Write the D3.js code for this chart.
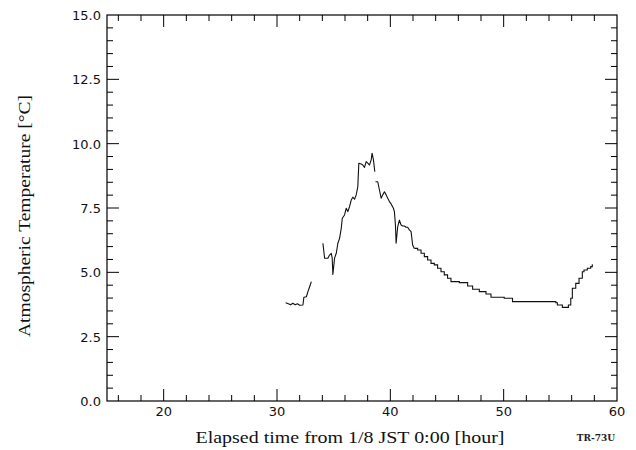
<!DOCTYPE html>
<html>
<head>
<meta charset="utf-8">
<script src="https://cdn.jsdelivr.net/npm/d3@7"></script>
<style>
  html, body { margin: 0; padding: 0; background: #fff; }
  svg { display: block; }
</style>
</head>
<body>
<svg id="chart" width="636" height="450"></svg>
<script>
// Elapsed hours from 1/8 JST 0:00 (null temperature = no record)
const hours = [
  30.76, 31.00, 31.20, 31.40, 31.60, 31.80, 32.00, 32.29, 32.37, 32.59, 32.73, 32.88, 33.03,
  33.60,
  34.05, 34.20, 34.49, 34.64, 34.79, 34.87, 34.93, 35.08, 35.23, 35.37, 35.52, 35.67, 35.76,
  35.96, 36.11, 36.25, 36.40, 36.55, 36.69, 36.84, 36.99, 37.13, 37.22, 37.43, 37.57, 37.72,
  37.87, 38.01, 38.16, 38.31, 38.39, 38.51, 38.63,
  38.66,
  38.69, 38.89, 39.04, 39.19, 39.33, 39.48, 39.63, 39.77, 39.92, 40.07, 40.27, 40.36, 40.45,
  40.51, 40.65, 40.80, 40.95, 41.09, 41.24, 41.39, 41.53, 41.68, 41.83, 41.97, 42.12, 42.41,
  42.71, 43.00, 43.29, 43.59, 43.88, 44.17, 44.47, 44.76, 45.05, 45.35, 46.09, 46.82, 47.26,
  47.85, 48.44, 48.88, 50.05, 50.78, 54.60, 54.74, 55.18, 55.71, 55.92, 56.06, 56.36, 56.65,
  56.94, 57.09, 57.38, 57.68, 57.82
];

// Atmospheric temperature [°C]
const temps = [
  3.82, 3.78, 3.74, 3.80, 3.74, 3.78, 3.72, 3.73, 4.03, 4.05, 4.25, 4.44, 4.64,
  null,
  6.13, 5.55, 5.55, 5.67, 5.74, 5.55, 4.92, 5.55, 5.74, 6.13, 6.32, 6.71, 7.10,
  7.23, 7.49, 7.36, 7.55, 7.81, 7.92, 7.84, 8.01, 8.33, 9.24, 9.21, 9.17, 9.08,
  9.30, 9.24, 9.17, 9.37, 9.63, 9.37, 8.91,
  null,
  8.52, 8.52, 8.20, 7.88, 8.01, 8.13, 8.01, 7.88, 7.75, 7.66, 7.49, 7.36, 6.84,
  6.13, 6.77, 7.03, 6.84, 6.80, 6.80, 6.75, 6.75, 6.65, 6.58, 6.06, 5.93, 5.87,
  5.74, 5.61, 5.48, 5.35, 5.29, 5.16, 5.02, 4.90, 4.77, 4.64, 4.60, 4.47, 4.34,
  4.25, 4.16, 4.03, 3.99, 3.86, 3.82, 3.73, 3.64, 3.73, 3.99, 4.38, 4.57, 4.77,
  5.02, 5.09, 5.16, 5.22, 5.31
];

const xMajor = [20, 30, 40, 50, 60];
const yMajor = [0, 2.5, 5, 7.5, 10, 12.5, 15];
const xTitle = "Elapsed time from 1/8 JST 0:00 [hour]";
const yTitle = "Atmospheric Temperature [°C]";
const tag = "TR-73U";

const svg = d3.select("#chart");
const margin = { left: 107, right: 19, top: 15, bottom: 49 };
const W = 636, H = 450;
const x0 = margin.left, x1 = W - margin.right;
const y0 = H - margin.bottom, y1 = margin.top;

const x = d3.scaleLinear().domain([15, 60]).range([x0, x1]);
const y = d3.scaleLinear().domain([0, 15]).range([y0, y1]);

const xMinor = d3.range(16, 60, 2).filter(v => !xMajor.includes(v));
const yMinor = d3.range(0.5, 15, 0.5).filter(v => !yMajor.some(m => Math.abs(m - v) < 1e-9));

const major = 12, minor = 6;

// frame
svg.append("rect")
  .attr("x", x0).attr("y", y1)
  .attr("width", x1 - x0).attr("height", y0 - y1)
  .attr("fill", "none").attr("stroke", "#000").attr("stroke-width", 1.2);

const ticks = svg.append("g").attr("stroke", "#000").attr("stroke-width", 1);

// ticks point inward on all four sides
function xTicks(vals, len) {
  vals.forEach(v => {
    if (v <= 15 || v >= 60) return;
    ticks.append("line").attr("x1", x(v)).attr("x2", x(v)).attr("y1", y0).attr("y2", y0 - len);
    ticks.append("line").attr("x1", x(v)).attr("x2", x(v)).attr("y1", y1).attr("y2", y1 + len);
  });
}
function yTicks(vals, len) {
  vals.forEach(v => {
    if (v <= 0 || v >= 15) return;
    ticks.append("line").attr("y1", y(v)).attr("y2", y(v)).attr("x1", x0).attr("x2", x0 + len);
    ticks.append("line").attr("y1", y(v)).attr("y2", y(v)).attr("x1", x1).attr("x2", x1 - len);
  });
}
xTicks(xMajor, major); xTicks(xMinor, minor);
yTicks(yMajor, major); yTicks(yMinor, minor);

const labelFont = "'DejaVu Sans', sans-serif";

// x tick labels
svg.append("g").selectAll("text").data(xMajor).join("text")
  .attr("x", d => x(d)).attr("y", y0 + 15)
  .attr("text-anchor", "middle")
  .attr("font-family", labelFont).attr("font-size", 13)
  .attr("fill", "#111")
  .text(d => d);

// y tick labels
svg.append("g").selectAll("text").data(yMajor).join("text")
  .attr("x", x0 - 6).attr("y", d => y(d) + 5)
  .attr("text-anchor", "end")
  .attr("font-family", labelFont).attr("font-size", 13)
  .attr("fill", "#111")
  .text(d => d3.format(".1f")(d));

// axis titles
svg.append("text")
  .attr("x", (x0 + x1) / 2 - 12).attr("y", y0 + 42)
  .attr("text-anchor", "middle")
  .attr("font-family", "'Liberation Serif', serif").attr("font-size", 17)
  .attr("textLength", 309).attr("lengthAdjust", "spacingAndGlyphs")
  .attr("fill", "#111")
  .text(xTitle);

svg.append("text")
  .attr("transform", `translate(30, ${(y0 + y1) / 2 + 8}) rotate(-90)`)
  .attr("text-anchor", "middle")
  .attr("font-family", "'Liberation Serif', serif").attr("font-size", 17)
  .attr("textLength", 242).attr("lengthAdjust", "spacingAndGlyphs")
  .attr("fill", "#111")
  .text(yTitle);

svg.append("text")
  .attr("x", 596).attr("y", 441)
  .attr("text-anchor", "middle")
  .attr("font-family", "'DejaVu Serif', serif").attr("font-size", 9)
  .attr("font-weight", "bold")
  .attr("fill", "#222")
  .text(tag);

// temperature trace: jagged line through the warm-up, stair steps in the slow decline
const series = hours.map((h, i) => ({ h, t: temps[i] }));
const split = 42.12;
const early = series.filter(d => d.h <= split);
const late = series.filter(d => d.h >= split);

const lineLinear = d3.line()
  .defined(d => d.t != null)
  .x(d => x(d.h))
  .y(d => y(d.t));

const lineStep = d3.line()
  .defined(d => d.t != null)
  .x(d => x(d.h))
  .y(d => y(d.t))
  .curve(d3.curveStepAfter);

svg.append("path")
  .datum(early)
  .attr("fill", "none")
  .attr("stroke", "#111")
  .attr("stroke-width", 1.1)
  .attr("stroke-linejoin", "round")
  .attr("d", lineLinear);

svg.append("path")
  .datum(late)
  .attr("fill", "none")
  .attr("stroke", "#111")
  .attr("stroke-width", 1.1)
  .attr("d", lineStep);
</script>
</body>
</html>
